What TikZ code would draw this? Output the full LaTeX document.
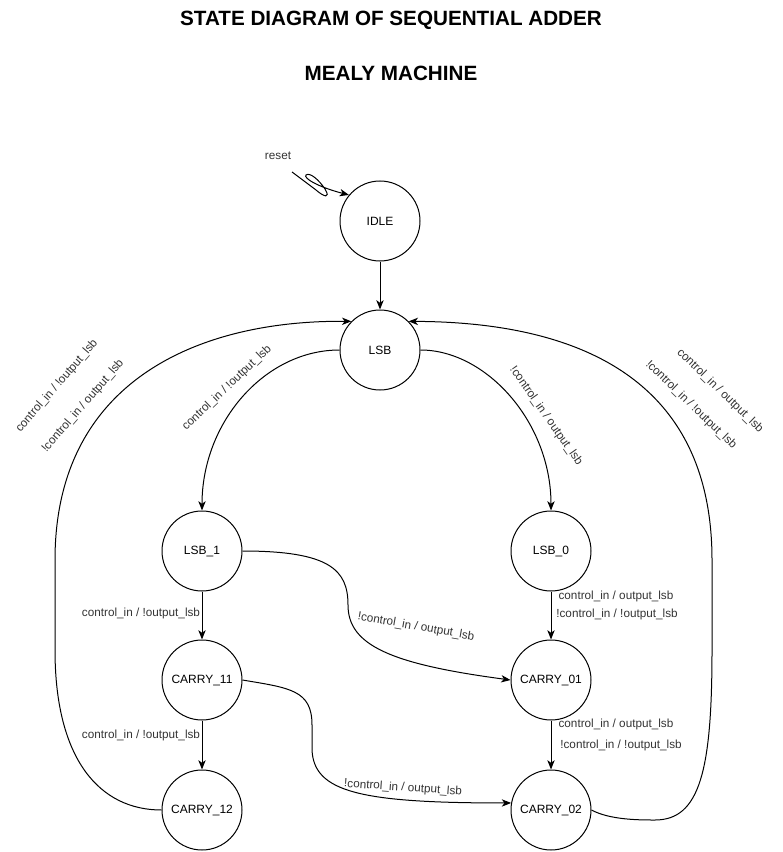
\documentclass[tikz,border=0pt]{standalone}
\usepackage{fontspec}
\setmainfont{Liberation Sans}
\usetikzlibrary{arrows.meta}
\begin{document}
\begin{tikzpicture}[x=0.75pt,y=-0.75pt,
  state/.style={circle,draw,line width=0.75pt,minimum size=60pt,inner sep=0pt,font=\fontsize{9}{11}\selectfont},
  conn/.style={draw,line width=0.75pt,-{Stealth[length=7pt,width=5.5pt,inset=2pt]}},
  lbl/.style={font=\fontsize{8.8}{10}\selectfont,text=black!80,inner sep=0pt},
  ttl/.style={font=\fontsize{15.5}{18}\selectfont\bfseries,inner sep=0pt}]
\useasboundingbox (0,0) rectangle (782,852);
\node[ttl] (t1) at (391,20) {STATE DIAGRAM OF SEQUENTIAL ADDER};
\node[ttl] (t2) at (391,73) {MEALY MACHINE};

\node[state] (idle) at (380,221) {IDLE};
\node[state] (lsb) at (380,350) {LSB};
\node[state] (lsb1) at (202,551) {LSB\_1};
\node[state] (lsb0) at (551,551) {LSB\_0};
\node[state] (c11) at (202,680) {CARRY\_11};
\node[state] (c01) at (551,680) {CARRY\_01};
\node[state] (c12) at (202,810) {CARRY\_12};
\node[state] (c02) at (551,810) {CARRY\_02};

% reset
\node[lbl] (rst) at (278,156) {reset};
\coordinate (rs) at (292,172);
\path[conn] (rs) -- (316,190) .. controls (324,197) and (331,199) .. (325,189)
  .. controls (319,180) and (310,172) .. (306,175)
  .. controls (303,178) and (318,187) .. (idle.140);

\path[conn] (idle) -- (lsb);
\path[conn] (lsb.west) .. controls (265,350) and (202,422) .. (lsb1.north);
\path[conn] (lsb.east) .. controls (486,350) and (551,422) .. (lsb0.north);
\path[conn] (lsb1) -- (c11);
\path[conn] (lsb0) -- (c01);
\path[conn] (c11) -- (c12);
\path[conn] (c01) -- (c02);
\path[conn] (lsb1.east) .. controls (330,551) and (348,570) .. (348,605)
  .. controls (348,645) and (390,664) .. (c01.west);
\path[conn] (c11.east) .. controls (290,688) and (312,690) .. (312,725) -- (312,750)
  .. controls (314,792) and (360,803) .. (c02.170);
\path[conn] (c12.west) .. controls (100,810) and (55,760) .. (55,650) -- (55,560)
  .. controls (55,380) and (200,320) .. (lsb.135);
\path[conn] (c02.east) .. controls (610,820) and (640,820) .. (655,820)
  .. controls (700,820) and (712,770) .. (712,650) -- (712,560)
  .. controls (712,380) and (580,322) .. (lsb.45);

% labels
\node[lbl,rotate=43.6] (l1) at (227,388) {control\_in / !output\_lsb};
\node[lbl,rotate=-55] (l2) at (546,416) {!control\_in / output\_lsb};
\node[lbl] (l3) at (141,613) {control\_in / !output\_lsb};
\node[lbl] (l4) at (141,735) {control\_in / !output\_lsb};
\node[lbl] (l5) at (616,596) {control\_in / output\_lsb};
\node[lbl] (l6) at (617,614) {!control\_in / !output\_lsb};
\node[lbl] (l7) at (616,724) {control\_in / output\_lsb};
\node[lbl] (l8) at (621,745) {!control\_in / !output\_lsb};
\node[lbl,rotate=-10] (l9) at (416,627) {!control\_in / output\_lsb};
\node[lbl,rotate=-4] (l10) at (403,788) {!control\_in / output\_lsb};
\node[lbl,rotate=49] (l11) at (57,386) {control\_in / !output\_lsb};
\node[lbl,rotate=49] (l12) at (83,406) {!control\_in / output\_lsb};
\node[lbl,rotate=-44] (l13) at (720,391) {control\_in / output\_lsb};
\node[lbl,rotate=-44] (l14) at (691,405) {!control\_in / !output\_lsb};
\end{tikzpicture}
\end{document}
